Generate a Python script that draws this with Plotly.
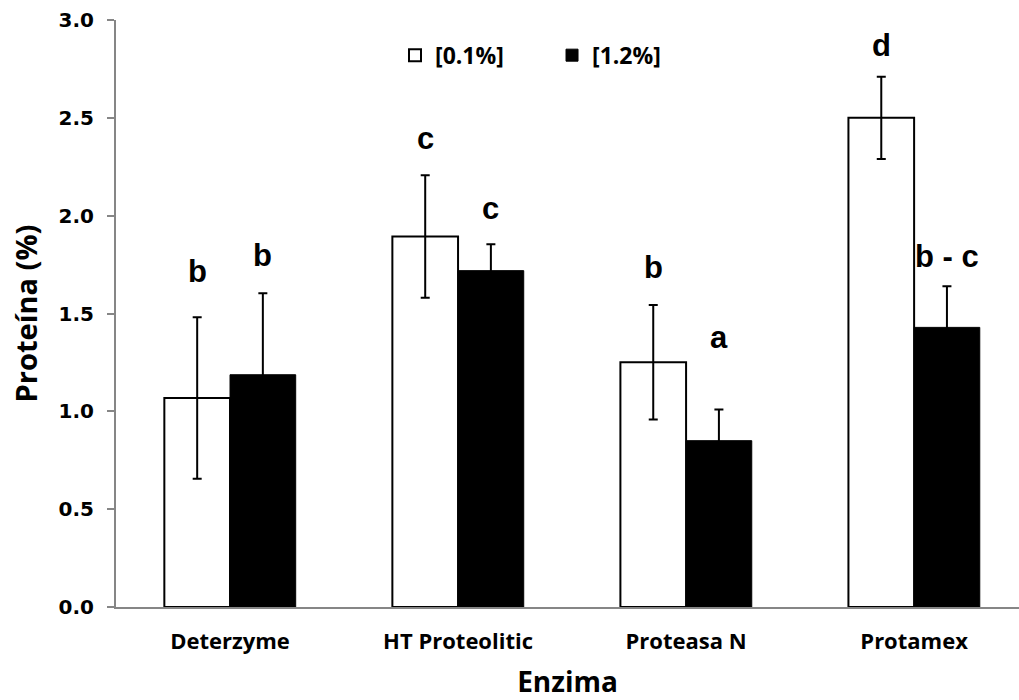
import plotly.graph_objects as go

categories = ["Deterzyme", "HT Proteolitic", "Proteasa N", "Protamex"]
series_names = ["[0.1%]", "[1.2%]"]
low_values = [1.068, 1.893, 1.251, 2.50]
low_errors = [0.413, 0.313, 0.293, 0.21]
high_values = [1.187, 1.719, 0.850, 1.429]
high_errors = [0.416, 0.135, 0.160, 0.21]
low_letters = ["b", "c", "b", "d"]
high_letters = ["b", "c", "a", "b - c"]
low_letter_y = [1.656, 2.336, 1.676, 2.811]
high_letter_y = [1.738, 1.978, 1.319, 1.733]
y_ticks = [0.0, 0.5, 1.0, 1.5, 2.0, 2.5, 3.0]

BAR_W = 0.288
idx = list(range(len(categories)))

fig = go.Figure()
fig.add_trace(go.Bar(
    x=idx, y=low_values, name=series_names[0], width=BAR_W, offset=-BAR_W,
    marker=dict(color="white", line=dict(color="black", width=2)),
    error_y=dict(type="data", array=low_errors, visible=True, color="black", thickness=2, width=4.5),
))
fig.add_trace(go.Bar(
    x=idx, y=high_values, name=series_names[1], width=BAR_W, offset=0,
    marker=dict(color="black", line=dict(color="black", width=1)),
    error_y=dict(type="data", array=high_errors, visible=True, color="black", thickness=2, width=4.5),
))

letter_font = dict(family="Liberation Sans, Arial, sans-serif", size=31, color="black", weight="bold")
for i in idx:
    fig.add_annotation(x=i - BAR_W / 2, y=low_letter_y[i], text=low_letters[i], showarrow=False,
                       yanchor="bottom", yshift=-8, font=letter_font)
    fig.add_annotation(x=i + BAR_W / 2, y=high_letter_y[i], text=high_letters[i], showarrow=False,
                       yanchor="bottom", yshift=-8, font=letter_font)

fig.update_layout(
    width=1019, height=700,
    margin=dict(l=116, r=0, t=20, b=93),
    paper_bgcolor="white", plot_bgcolor="white",
    showlegend=True,
    legend=dict(orientation="h", x=0.309, y=0.94, xanchor="left", yanchor="middle",
                font=dict(family="Open Sans, sans-serif", size=23, color="black", weight="bold"),
                bgcolor="rgba(0,0,0,0)", entrywidth=112, traceorder="normal"),
    xaxis=dict(
        range=[-0.5, 3.46], tickmode="array", tickvals=idx, ticktext=categories,
        showline=True, linecolor="#868686", linewidth=2, ticks="", showgrid=False, zeroline=False,
        tickfont=dict(family="Open Sans, sans-serif", size=22, color="black", weight="bold"),
        ticklabelstandoff=14,
        title=dict(text="Enzima", standoff=21,
                   font=dict(family="Open Sans, sans-serif", size=28, color="black", weight="bold")),
    ),
    yaxis=dict(
        range=[0, 3.0], tickmode="array", tickvals=y_ticks, ticktext=[f"{v:.1f}" for v in y_ticks],
        showline=True, linecolor="#868686", linewidth=2, ticks="outside", ticklen=7,
        tickcolor="#868686", tickwidth=2, showgrid=False, zeroline=False,
        tickfont=dict(family="DejaVu Sans, sans-serif", size=20, color="black", weight="bold"),
        ticklabelstandoff=9,
        title=dict(text="Proteína (%)", standoff=12,
                   font=dict(family="Open Sans, sans-serif", size=29, color="black", weight="bold")),
    ),
)

fig.write_html("out.html")
